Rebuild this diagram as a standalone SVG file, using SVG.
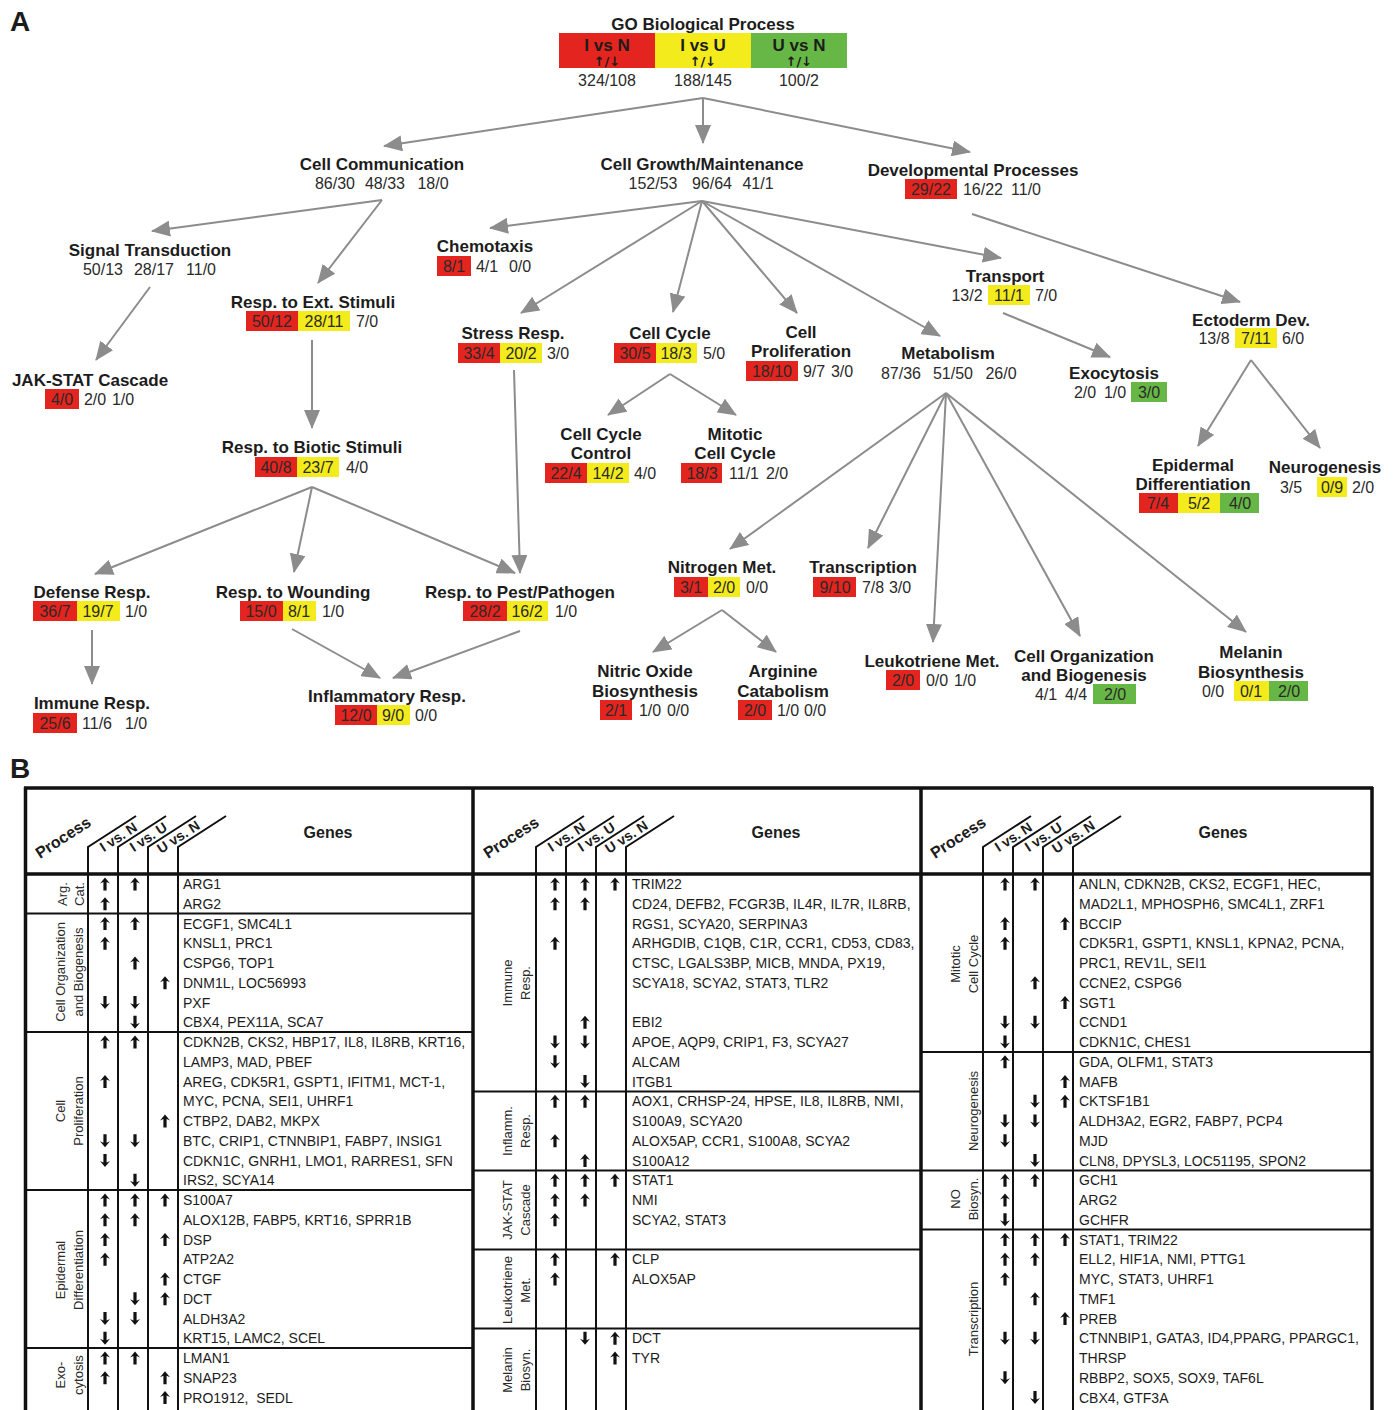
<svg xmlns="http://www.w3.org/2000/svg" width="1397" height="1410" viewBox="0 0 1397 1410">
<defs>
<style>
text{font-family:"Liberation Sans",Arial,sans-serif;fill:#1c1c1c}
.lbl{font-size:28px;font-weight:bold}
.t{font-size:17px;font-weight:bold;text-anchor:middle}
.n{font-size:16px;text-anchor:middle;fill:#2a2a2a}
.r{fill:#e4241f}.y{fill:#f3eb1c}.g{fill:#66b745}
.ud{font-family:"DejaVu Sans",sans-serif;font-size:13px;font-weight:bold;text-anchor:middle}
.gene{font-size:14px;fill:#2a2a2a}
.proc{font-size:13px;text-anchor:middle;fill:#2a2a2a}
.hdr{font-size:14px;font-weight:bold;text-anchor:middle}
.gh{font-size:16px;font-weight:bold;text-anchor:middle}
.conn line{stroke:#8c8c8c;stroke-width:2;marker-end:url(#ah)}
.thick{stroke:#111;stroke-width:3.5;fill:none}
.thin{stroke:#111;stroke-width:2;fill:none}
</style>
<marker id="ah" markerWidth="19" markerHeight="16" refX="18" refY="8" orient="auto" markerUnits="userSpaceOnUse"><path d="M0,0 L19,8 L0,16 Z" fill="#8c8c8c"/></marker>
<path id="up" d="M0,-6.5 L5,-0.5 L1.6,-2 L1.6,6.5 L-1.6,6.5 L-1.6,-2 L-5,-0.5 Z" fill="#111"/>
<path id="dn" d="M0,6.5 L5,0.5 L1.6,2 L1.6,-6.5 L-1.6,-6.5 L-1.6,2 L-5,0.5 Z" fill="#111"/>
</defs>
<rect width="1397" height="1410" fill="#fff"/>
<text class="lbl" x="10" y="31">A</text>
<text class="lbl" x="10" y="778">B</text>

<g id="root">
<text class="t" x="703" y="30">GO Biological Process</text>
<rect class="r" x="559" y="33" width="96" height="35"/>
<rect class="y" x="655" y="33" width="96" height="35"/>
<rect class="g" x="751" y="33" width="96" height="35"/>
<text class="t" x="607" y="51">I vs N</text>
<text class="t" x="703" y="51">I vs U</text>
<text class="t" x="799" y="51">U vs N</text>
<text class="ud" x="607" y="66">↑/↓</text>
<text class="ud" x="703" y="66">↑/↓</text>
<text class="ud" x="799" y="66">↑/↓</text>
<text class="n" x="607" y="86">324/108</text>
<text class="n" x="703" y="86">188/145</text>
<text class="n" x="799" y="86">100/2</text>
</g>

<g id="connectors" class="conn">
<line x1="703" y1="98" x2="384" y2="146"/>
<line x1="703" y1="98" x2="703" y2="143"/>
<line x1="703" y1="98" x2="970" y2="152"/>
<line x1="382" y1="200" x2="152" y2="231"/>
<line x1="382" y1="200" x2="318" y2="283"/>
<line x1="150" y1="287" x2="96" y2="360"/>
<line x1="312" y1="340" x2="312" y2="428"/>
<line x1="702" y1="201" x2="490" y2="228"/>
<line x1="702" y1="201" x2="521" y2="313"/>
<line x1="702" y1="201" x2="673" y2="312"/>
<line x1="702" y1="201" x2="797" y2="313"/>
<line x1="702" y1="201" x2="940" y2="336"/>
<line x1="702" y1="201" x2="1001" y2="258"/>
<line x1="972" y1="214" x2="1240" y2="302"/>
<line x1="1003" y1="313" x2="1110" y2="357"/>
<line x1="1251" y1="360" x2="1198" y2="446"/>
<line x1="1251" y1="360" x2="1320" y2="448"/>
<line x1="670" y1="374" x2="608" y2="415"/>
<line x1="670" y1="374" x2="736" y2="415"/>
<line x1="514" y1="370" x2="520" y2="573"/>
<line x1="312" y1="487" x2="95" y2="574"/>
<line x1="312" y1="487" x2="294" y2="572"/>
<line x1="312" y1="487" x2="515" y2="573"/>
<line x1="92" y1="630" x2="92" y2="684"/>
<line x1="292" y1="629" x2="380" y2="678"/>
<line x1="520" y1="631" x2="393" y2="678"/>
<line x1="946" y1="393" x2="730" y2="549"/>
<line x1="946" y1="393" x2="868" y2="548"/>
<line x1="946" y1="393" x2="933" y2="642"/>
<line x1="946" y1="393" x2="1080" y2="636"/>
<line x1="946" y1="393" x2="1246" y2="632"/>
<line x1="722" y1="610" x2="653" y2="652"/>
<line x1="722" y1="610" x2="776" y2="652"/>
</g>

<g id="n-cellcomm"><text class="t" x="382" y="170">Cell Communication</text>
<text class="n" x="335" y="189">86/30</text><text class="n" x="385" y="189">48/33</text><text class="n" x="433" y="189">18/0</text></g>
<g id="n-cellgrowth"><text class="t" x="702" y="170">Cell Growth/Maintenance</text>
<text class="n" x="653" y="189">152/53</text><text class="n" x="712" y="189">96/64</text><text class="n" x="758" y="189">41/1</text></g>
<g id="n-dev"><text class="t" x="973" y="176">Developmental Processes</text>
<rect class="r" x="905" y="179" width="52" height="20"/>
<text class="n" x="931" y="195">29/22</text><text class="n" x="983" y="195">16/22</text><text class="n" x="1026" y="195">11/0</text></g>
<g id="n-signal"><text class="t" x="150" y="256">Signal Transduction</text>
<text class="n" x="103" y="275">50/13</text><text class="n" x="154" y="275">28/17</text><text class="n" x="201" y="275">11/0</text></g>
<g id="n-respext"><text class="t" x="313" y="308">Resp. to Ext. Stimuli</text>
<rect class="r" x="246" y="311" width="52" height="20"/><rect class="y" x="298" y="311" width="52" height="20"/>
<text class="n" x="272" y="327">50/12</text><text class="n" x="324" y="327">28/11</text><text class="n" x="367" y="327">7/0</text></g>
<g id="n-jak"><text class="t" x="90" y="386">JAK-STAT Cascade</text>
<rect class="r" x="45" y="389" width="34" height="20"/>
<text class="n" x="62" y="405">4/0</text><text class="n" x="95" y="405">2/0</text><text class="n" x="123" y="405">1/0</text></g>
<g id="n-chemo"><text class="t" x="485" y="252">Chemotaxis</text>
<rect class="r" x="437" y="256" width="34" height="20"/>
<text class="n" x="454" y="272">8/1</text><text class="n" x="487" y="272">4/1</text><text class="n" x="520" y="272">0/0</text></g>
<g id="n-stress"><text class="t" x="513" y="339">Stress Resp.</text>
<rect class="r" x="458" y="343" width="42" height="20"/><rect class="y" x="500" y="343" width="42" height="20"/>
<text class="n" x="479" y="359">33/4</text><text class="n" x="521" y="359">20/2</text><text class="n" x="558" y="359">3/0</text></g>
<g id="n-cellcycle"><text class="t" x="670" y="339">Cell Cycle</text>
<rect class="r" x="614" y="343" width="42" height="20"/><rect class="y" x="656" y="343" width="41" height="20"/>
<text class="n" x="635" y="359">30/5</text><text class="n" x="676" y="359">18/3</text><text class="n" x="714" y="359">5/0</text></g>
<g id="n-prolif"><text class="t" x="801" y="338">Cell</text><text class="t" x="801" y="357">Proliferation</text>
<rect class="r" x="746" y="361" width="52" height="20"/>
<text class="n" x="772" y="377">18/10</text><text class="n" x="814" y="377">9/7</text><text class="n" x="842" y="377">3/0</text></g>
<g id="n-metab"><text class="t" x="948" y="359">Metabolism</text>
<text class="n" x="901" y="379">87/36</text><text class="n" x="953" y="379">51/50</text><text class="n" x="1001" y="379">26/0</text></g>
<g id="n-transport"><text class="t" x="1005" y="282">Transport</text>
<rect class="y" x="988" y="285" width="42" height="20"/>
<text class="n" x="967" y="301">13/2</text><text class="n" x="1009" y="301">11/1</text><text class="n" x="1046" y="301">7/0</text></g>
<g id="n-exo"><text class="t" x="1114" y="379">Exocytosis</text>
<rect class="g" x="1131" y="382" width="36" height="20"/>
<text class="n" x="1085" y="398">2/0</text><text class="n" x="1115" y="398">1/0</text><text class="n" x="1149" y="398">3/0</text></g>
<g id="n-ecto"><text class="t" x="1251" y="326">Ectoderm Dev.</text>
<rect class="y" x="1235" y="328" width="42" height="20"/>
<text class="n" x="1214" y="344">13/8</text><text class="n" x="1256" y="344">7/11</text><text class="n" x="1293" y="344">6/0</text></g>
<g id="n-biotic"><text class="t" x="312" y="453">Resp. to Biotic Stimuli</text>
<rect class="r" x="255" y="457" width="42" height="20"/><rect class="y" x="297" y="457" width="42" height="20"/>
<text class="n" x="276" y="473">40/8</text><text class="n" x="318" y="473">23/7</text><text class="n" x="357" y="473">4/0</text></g>
<g id="n-ccc"><text class="t" x="601" y="440">Cell Cycle</text><text class="t" x="601" y="459">Control</text>
<rect class="r" x="545" y="463" width="42" height="20"/><rect class="y" x="587" y="463" width="42" height="20"/>
<text class="n" x="566" y="479">22/4</text><text class="n" x="608" y="479">14/2</text><text class="n" x="645" y="479">4/0</text></g>
<g id="n-mitotic"><text class="t" x="735" y="440">Mitotic</text><text class="t" x="735" y="459">Cell Cycle</text>
<rect class="r" x="681" y="463" width="41" height="20"/>
<text class="n" x="702" y="479">18/3</text><text class="n" x="744" y="479">11/1</text><text class="n" x="777" y="479">2/0</text></g>
<g id="n-epid"><text class="t" x="1193" y="471">Epidermal</text><text class="t" x="1193" y="490">Differentiation</text>
<rect class="r" x="1139" y="493" width="39" height="20"/><rect class="y" x="1178" y="493" width="42" height="20"/><rect class="g" x="1220" y="493" width="39" height="20"/>
<text class="n" x="1158" y="509">7/4</text><text class="n" x="1199" y="509">5/2</text><text class="n" x="1240" y="509">4/0</text></g>
<g id="n-neuro"><text class="t" x="1325" y="473">Neurogenesis</text>
<rect class="y" x="1317" y="477" width="30" height="20"/>
<text class="n" x="1291" y="493">3/5</text><text class="n" x="1332" y="493">0/9</text><text class="n" x="1363" y="493">2/0</text></g>
<g id="n-nitrogen"><text class="t" x="722" y="573">Nitrogen Met.</text>
<rect class="r" x="674" y="577" width="34" height="20"/><rect class="y" x="708" y="577" width="32" height="20"/>
<text class="n" x="691" y="593">3/1</text><text class="n" x="724" y="593">2/0</text><text class="n" x="757" y="593">0/0</text></g>
<g id="n-transcr"><text class="t" x="863" y="573">Transcription</text>
<rect class="r" x="813" y="577" width="43" height="20"/>
<text class="n" x="835" y="593">9/10</text><text class="n" x="873" y="593">7/8</text><text class="n" x="900" y="593">3/0</text></g>
<g id="n-defense"><text class="t" x="92" y="598">Defense Resp.</text>
<rect class="r" x="33" y="601" width="44" height="20"/><rect class="y" x="77" y="601" width="43" height="20"/>
<text class="n" x="55" y="617">36/7</text><text class="n" x="98" y="617">19/7</text><text class="n" x="136" y="617">1/0</text></g>
<g id="n-wound"><text class="t" x="293" y="598">Resp. to Wounding</text>
<rect class="r" x="240" y="601" width="43" height="20"/><rect class="y" x="283" y="601" width="33" height="20"/>
<text class="n" x="261" y="617">15/0</text><text class="n" x="299" y="617">8/1</text><text class="n" x="333" y="617">1/0</text></g>
<g id="n-pest"><text class="t" x="520" y="598">Resp. to Pest/Pathogen</text>
<rect class="r" x="463" y="601" width="44" height="20"/><rect class="y" x="507" y="601" width="41" height="20"/>
<text class="n" x="485" y="617">28/2</text><text class="n" x="527" y="617">16/2</text><text class="n" x="566" y="617">1/0</text></g>
<g id="n-leuko"><text class="t" x="932" y="667">Leukotriene Met.</text>
<rect class="r" x="886" y="670" width="34" height="20"/>
<text class="n" x="903" y="686">2/0</text><text class="n" x="937" y="686">0/0</text><text class="n" x="965" y="686">1/0</text></g>
<g id="n-cellorg"><text class="t" x="1084" y="662">Cell Organization</text><text class="t" x="1084" y="681">and Biogenesis</text>
<rect class="g" x="1093" y="684" width="43" height="20"/>
<text class="n" x="1046" y="700">4/1</text><text class="n" x="1076" y="700">4/4</text><text class="n" x="1115" y="700">2/0</text></g>
<g id="n-melanin"><text class="t" x="1251" y="658">Melanin</text><text class="t" x="1251" y="678">Biosynthesis</text>
<rect class="y" x="1234" y="681" width="35" height="20"/><rect class="g" x="1269" y="681" width="39" height="20"/>
<text class="n" x="1213" y="697">0/0</text><text class="n" x="1251" y="697">0/1</text><text class="n" x="1289" y="697">2/0</text></g>
<g id="n-nitric"><text class="t" x="645" y="677">Nitric Oxide</text><text class="t" x="645" y="697">Biosynthesis</text>
<rect class="r" x="600" y="700" width="32" height="20"/>
<text class="n" x="616" y="716">2/1</text><text class="n" x="650" y="716">1/0</text><text class="n" x="678" y="716">0/0</text></g>
<g id="n-arginine"><text class="t" x="783" y="677">Arginine</text><text class="t" x="783" y="697">Catabolism</text>
<rect class="r" x="738" y="700" width="34" height="20"/>
<text class="n" x="755" y="716">2/0</text><text class="n" x="788" y="716">1/0</text><text class="n" x="815" y="716">0/0</text></g>
<g id="n-immune"><text class="t" x="92" y="709">Immune Resp.</text>
<rect class="r" x="33" y="713" width="44" height="20"/>
<text class="n" x="55" y="729">25/6</text><text class="n" x="97" y="729">11/6</text><text class="n" x="136" y="729">1/0</text></g>
<g id="n-inflam"><text class="t" x="387" y="702">Inflammatory Resp.</text>
<rect class="r" x="335" y="705" width="42" height="20"/><rect class="y" x="377" y="705" width="33" height="20"/>
<text class="n" x="356" y="721">12/0</text><text class="n" x="393" y="721">9/0</text><text class="n" x="426" y="721">0/0</text></g>

<g id="table">
<g id="grid">
<path class="thick" d="M24,788 H1373 M25.5,787 V1410 M1372,787 V1410 M473,787 V1410 M921,787 V1410 M24,874 H1373"/>
<path class="thin" d="M88,1410 V847 L136,816 M118,1410 V847 L166,816 M148,1410 V847 L196,816 M178,1410 V847 L226,816"/>
<path class="thin" d="M536,1410 V847 L584,816 M566,1410 V847 L614,816 M596,1410 V847 L644,816 M626,1410 V847 L674,816"/>
<path class="thin" d="M983,1410 V847 L1031,816 M1013,1410 V847 L1061,816 M1043,1410 V847 L1091,816 M1073,1410 V847 L1121,816"/>
<path class="thin" d="M25,913.6 H473 M25,1032.1 H473 M25,1190.1 H473 M25,1348.1 H473"/>
<path class="thin" d="M473,1091.4 H921 M473,1170.4 H921 M473,1249.4 H921 M473,1328.4 H921"/>
<path class="thin" d="M921,1051.9 H1372 M921,1170.4 H1372 M921,1229.6 H1372"/>
</g>
<g id="headers">
<text class="gh" transform="rotate(-33 66 842)" x="66" y="842">Process</text>
<text class="hdr" transform="rotate(-33 121 841)" x="121" y="841">I vs. N</text>
<text class="hdr" transform="rotate(-33 151 841)" x="151" y="841">I vs. U</text>
<text class="hdr" transform="rotate(-33 181 841)" x="181" y="841">U vs. N</text>
<text class="gh" x="328" y="838">Genes</text>
<text class="gh" transform="rotate(-33 514 842)" x="514" y="842">Process</text>
<text class="hdr" transform="rotate(-33 569 841)" x="569" y="841">I vs. N</text>
<text class="hdr" transform="rotate(-33 599 841)" x="599" y="841">I vs. U</text>
<text class="hdr" transform="rotate(-33 629 841)" x="629" y="841">U vs. N</text>
<text class="gh" x="776" y="838">Genes</text>
<text class="gh" transform="rotate(-33 961 842)" x="961" y="842">Process</text>
<text class="hdr" transform="rotate(-33 1016 841)" x="1016" y="841">I vs. N</text>
<text class="hdr" transform="rotate(-33 1046 841)" x="1046" y="841">I vs. U</text>
<text class="hdr" transform="rotate(-33 1076 841)" x="1076" y="841">U vs. N</text>
<text class="gh" x="1223" y="838">Genes</text>
</g>
<g id="processes">
<text class="proc" transform="rotate(-90 67 894)" x="67" y="894">Arg.</text>
<text class="proc" transform="rotate(-90 84 894)" x="84" y="894">Cat.</text>
<text class="proc" transform="rotate(-90 65 972)" x="65" y="972">Cell Organization</text>
<text class="proc" transform="rotate(-90 83 972)" x="83" y="972">and Biogenesis</text>
<text class="proc" transform="rotate(-90 65 1111)" x="65" y="1111">Cell</text>
<text class="proc" transform="rotate(-90 83 1111)" x="83" y="1111">Proliferation</text>
<text class="proc" transform="rotate(-90 65 1270)" x="65" y="1270">Epidermal</text>
<text class="proc" transform="rotate(-90 83 1270)" x="83" y="1270">Differentiation</text>
<text class="proc" transform="rotate(-90 65 1375)" x="65" y="1375">Exo-</text>
<text class="proc" transform="rotate(-90 83 1375)" x="83" y="1375">cytosis</text>
<text class="proc" transform="rotate(-90 512 983)" x="512" y="983">Immune</text>
<text class="proc" transform="rotate(-90 530 983)" x="530" y="983">Resp.</text>
<text class="proc" transform="rotate(-90 512 1131)" x="512" y="1131">Inflamm.</text>
<text class="proc" transform="rotate(-90 530 1131)" x="530" y="1131">Resp.</text>
<text class="proc" transform="rotate(-90 512 1210)" x="512" y="1210">JAK-STAT</text>
<text class="proc" transform="rotate(-90 530 1210)" x="530" y="1210">Cascade</text>
<text class="proc" transform="rotate(-90 512 1290)" x="512" y="1290">Leukotriene</text>
<text class="proc" transform="rotate(-90 530 1290)" x="530" y="1290">Met.</text>
<text class="proc" transform="rotate(-90 512 1370)" x="512" y="1370">Melanin</text>
<text class="proc" transform="rotate(-90 530 1370)" x="530" y="1370">Biosyn.</text>
<text class="proc" transform="rotate(-90 960 964)" x="960" y="964">Mitotic</text>
<text class="proc" transform="rotate(-90 978 964)" x="978" y="964">Cell Cycle</text>
<text class="proc" transform="rotate(-90 978 1111)" x="978" y="1111">Neurogenesis</text>
<text class="proc" transform="rotate(-90 960 1199)" x="960" y="1199">NO</text>
<text class="proc" transform="rotate(-90 978 1199)" x="978" y="1199">Biosyn.</text>
<text class="proc" transform="rotate(-90 978 1319)" x="978" y="1319">Transcription</text>
</g>
<g id="genes1" class="gene">
<text x="183" y="889">ARG1</text>
<text x="183" y="908.75">ARG2</text>
<text x="183" y="928.5">ECGF1, SMC4L1</text>
<text x="183" y="948.25">KNSL1, PRC1</text>
<text x="183" y="968">CSPG6, TOP1</text>
<text x="183" y="987.75">DNM1L, LOC56993</text>
<text x="183" y="1007.5">PXF</text>
<text x="183" y="1027.25">CBX4, PEX11A, SCA7</text>
<text x="183" y="1047">CDKN2B, CKS2, HBP17, IL8, IL8RB, KRT16,</text>
<text x="183" y="1066.75">LAMP3, MAD, PBEF</text>
<text x="183" y="1086.5">AREG, CDK5R1, GSPT1, IFITM1, MCT-1,</text>
<text x="183" y="1106.25">MYC, PCNA, SEI1, UHRF1</text>
<text x="183" y="1126">CTBP2, DAB2, MKPX</text>
<text x="183" y="1145.75">BTC, CRIP1, CTNNBIP1, FABP7, INSIG1</text>
<text x="183" y="1165.5">CDKN1C, GNRH1, LMO1, RARRES1, SFN</text>
<text x="183" y="1185.25">IRS2, SCYA14</text>
<text x="183" y="1205">S100A7</text>
<text x="183" y="1224.75">ALOX12B, FABP5, KRT16, SPRR1B</text>
<text x="183" y="1244.5">DSP</text>
<text x="183" y="1264.25">ATP2A2</text>
<text x="183" y="1284">CTGF</text>
<text x="183" y="1303.75">DCT</text>
<text x="183" y="1323.5">ALDH3A2</text>
<text x="183" y="1343.25">KRT15, LAMC2, SCEL</text>
<text x="183" y="1363">LMAN1</text>
<text x="183" y="1382.75">SNAP23</text>
<text x="183" y="1402.5" xml:space="preserve">PRO1912,  SEDL</text>
</g>
<g id="genes2" class="gene">
<text x="632" y="889">TRIM22</text>
<text x="632" y="908.75">CD24, DEFB2, FCGR3B, IL4R, IL7R, IL8RB,</text>
<text x="632" y="928.5">RGS1, SCYA20, SERPINA3</text>
<text x="632" y="948.25">ARHGDIB, C1QB, C1R, CCR1, CD53, CD83,</text>
<text x="632" y="968">CTSC, LGALS3BP, MICB, MNDA, PX19,</text>
<text x="632" y="987.75">SCYA18, SCYA2, STAT3, TLR2</text>
<text x="632" y="1027.25">EBI2</text>
<text x="632" y="1047">APOE, AQP9, CRIP1, F3, SCYA27</text>
<text x="632" y="1066.75">ALCAM</text>
<text x="632" y="1086.5">ITGB1</text>
<text x="632" y="1106.25">AOX1, CRHSP-24, HPSE, IL8, IL8RB, NMI,</text>
<text x="632" y="1126">S100A9, SCYA20</text>
<text x="632" y="1145.75">ALOX5AP, CCR1, S100A8, SCYA2</text>
<text x="632" y="1165.5">S100A12</text>
<text x="632" y="1185.25">STAT1</text>
<text x="632" y="1205">NMI</text>
<text x="632" y="1224.75">SCYA2, STAT3</text>
<text x="632" y="1264.25">CLP</text>
<text x="632" y="1284">ALOX5AP</text>
<text x="632" y="1343.25">DCT</text>
<text x="632" y="1363">TYR</text>
</g>
<g id="genes3" class="gene">
<text x="1079" y="889">ANLN, CDKN2B, CKS2, ECGF1, HEC,</text>
<text x="1079" y="908.75">MAD2L1, MPHOSPH6, SMC4L1, ZRF1</text>
<text x="1079" y="928.5">BCCIP</text>
<text x="1079" y="948.25">CDK5R1, GSPT1, KNSL1, KPNA2, PCNA,</text>
<text x="1079" y="968">PRC1, REV1L, SEI1</text>
<text x="1079" y="987.75">CCNE2, CSPG6</text>
<text x="1079" y="1007.5">SGT1</text>
<text x="1079" y="1027.25">CCND1</text>
<text x="1079" y="1047">CDKN1C, CHES1</text>
<text x="1079" y="1066.75">GDA, OLFM1, STAT3</text>
<text x="1079" y="1086.5">MAFB</text>
<text x="1079" y="1106.25">CKTSF1B1</text>
<text x="1079" y="1126">ALDH3A2, EGR2, FABP7, PCP4</text>
<text x="1079" y="1145.75">MJD</text>
<text x="1079" y="1165.5">CLN8, DPYSL3, LOC51195, SPON2</text>
<text x="1079" y="1185.25">GCH1</text>
<text x="1079" y="1205">ARG2</text>
<text x="1079" y="1224.75">GCHFR</text>
<text x="1079" y="1244.5">STAT1, TRIM22</text>
<text x="1079" y="1264.25">ELL2, HIF1A, NMI, PTTG1</text>
<text x="1079" y="1284">MYC, STAT3, UHRF1</text>
<text x="1079" y="1303.75">TMF1</text>
<text x="1079" y="1323.5">PREB</text>
<text x="1079" y="1343.25">CTNNBIP1, GATA3, ID4,PPARG, PPARGC1,</text>
<text x="1079" y="1363">THRSP</text>
<text x="1079" y="1382.75">RBBP2, SOX5, SOX9, TAF6L</text>
<text x="1079" y="1402.5">CBX4, GTF3A</text>
</g>
<g id="arrows1">
<use href="#up" x="105" y="884"/><use href="#up" x="135" y="884"/>
<use href="#up" x="105" y="903.75"/>
<use href="#up" x="105" y="923.5"/><use href="#up" x="135" y="923.5"/>
<use href="#up" x="105" y="943.25"/>
<use href="#up" x="135" y="963"/>
<use href="#up" x="165" y="982.75"/>
<use href="#dn" x="105" y="1002.5"/><use href="#dn" x="135" y="1002.5"/>
<use href="#dn" x="135" y="1022.25"/>
<use href="#up" x="105" y="1042"/><use href="#up" x="135" y="1042"/>
<use href="#up" x="105" y="1081.5"/>
<use href="#up" x="165" y="1121"/>
<use href="#dn" x="105" y="1140.75"/><use href="#dn" x="135" y="1140.75"/>
<use href="#dn" x="105" y="1160.5"/>
<use href="#dn" x="135" y="1180.25"/>
<use href="#up" x="105" y="1200"/><use href="#up" x="135" y="1200"/><use href="#up" x="165" y="1200"/>
<use href="#up" x="105" y="1219.75"/><use href="#up" x="135" y="1219.75"/>
<use href="#up" x="105" y="1239.5"/><use href="#up" x="165" y="1239.5"/>
<use href="#up" x="105" y="1259.25"/>
<use href="#up" x="165" y="1279"/>
<use href="#dn" x="135" y="1298.75"/><use href="#up" x="165" y="1298.75"/>
<use href="#dn" x="105" y="1318.5"/><use href="#dn" x="135" y="1318.5"/>
<use href="#dn" x="105" y="1338.25"/>
<use href="#up" x="105" y="1358"/><use href="#up" x="135" y="1358"/>
<use href="#up" x="105" y="1377.75"/><use href="#up" x="165" y="1377.75"/>
<use href="#up" x="165" y="1397.5"/>
</g>
<g id="arrows2">
<use href="#up" x="555" y="884"/><use href="#up" x="585" y="884"/><use href="#up" x="615" y="884"/>
<use href="#up" x="555" y="903.75"/><use href="#up" x="585" y="903.75"/>
<use href="#up" x="555" y="943.25"/>
<use href="#up" x="585" y="1022.25"/>
<use href="#dn" x="555" y="1042"/><use href="#dn" x="585" y="1042"/>
<use href="#dn" x="555" y="1061.75"/>
<use href="#dn" x="585" y="1081.5"/>
<use href="#up" x="555" y="1101.25"/><use href="#up" x="585" y="1101.25"/>
<use href="#up" x="555" y="1140.75"/>
<use href="#up" x="585" y="1160.5"/>
<use href="#up" x="555" y="1180.25"/><use href="#up" x="585" y="1180.25"/><use href="#up" x="615" y="1180.25"/>
<use href="#up" x="555" y="1200"/><use href="#up" x="585" y="1200"/>
<use href="#up" x="555" y="1219.75"/>
<use href="#up" x="555" y="1259.25"/><use href="#up" x="615" y="1259.25"/>
<use href="#up" x="555" y="1279"/>
<use href="#dn" x="585" y="1338.25"/><use href="#up" x="615" y="1338.25"/>
<use href="#up" x="615" y="1358"/>
</g>
<g id="arrows3">
<use href="#up" x="1005" y="884"/><use href="#up" x="1035" y="884"/>
<use href="#up" x="1005" y="923.5"/><use href="#up" x="1065" y="923.5"/>
<use href="#up" x="1005" y="943.25"/>
<use href="#up" x="1035" y="982.75"/>
<use href="#up" x="1065" y="1002.5"/>
<use href="#dn" x="1005" y="1022.25"/><use href="#dn" x="1035" y="1022.25"/>
<use href="#dn" x="1005" y="1042"/>
<use href="#up" x="1005" y="1061.75"/>
<use href="#up" x="1065" y="1081.5"/>
<use href="#dn" x="1035" y="1101.25"/><use href="#up" x="1065" y="1101.25"/>
<use href="#dn" x="1005" y="1121"/><use href="#dn" x="1035" y="1121"/>
<use href="#dn" x="1005" y="1140.75"/>
<use href="#dn" x="1035" y="1160.5"/>
<use href="#up" x="1005" y="1180.25"/><use href="#up" x="1035" y="1180.25"/>
<use href="#up" x="1005" y="1200"/>
<use href="#dn" x="1005" y="1219.75"/>
<use href="#up" x="1005" y="1239.5"/><use href="#up" x="1035" y="1239.5"/><use href="#up" x="1065" y="1239.5"/>
<use href="#up" x="1005" y="1259.25"/><use href="#up" x="1035" y="1259.25"/>
<use href="#up" x="1005" y="1279"/>
<use href="#up" x="1035" y="1298.75"/>
<use href="#up" x="1065" y="1318.5"/>
<use href="#dn" x="1005" y="1338.25"/><use href="#dn" x="1035" y="1338.25"/>
<use href="#dn" x="1005" y="1377.75"/>
<use href="#dn" x="1035" y="1397.5"/>
</g>
</g>
</svg>
